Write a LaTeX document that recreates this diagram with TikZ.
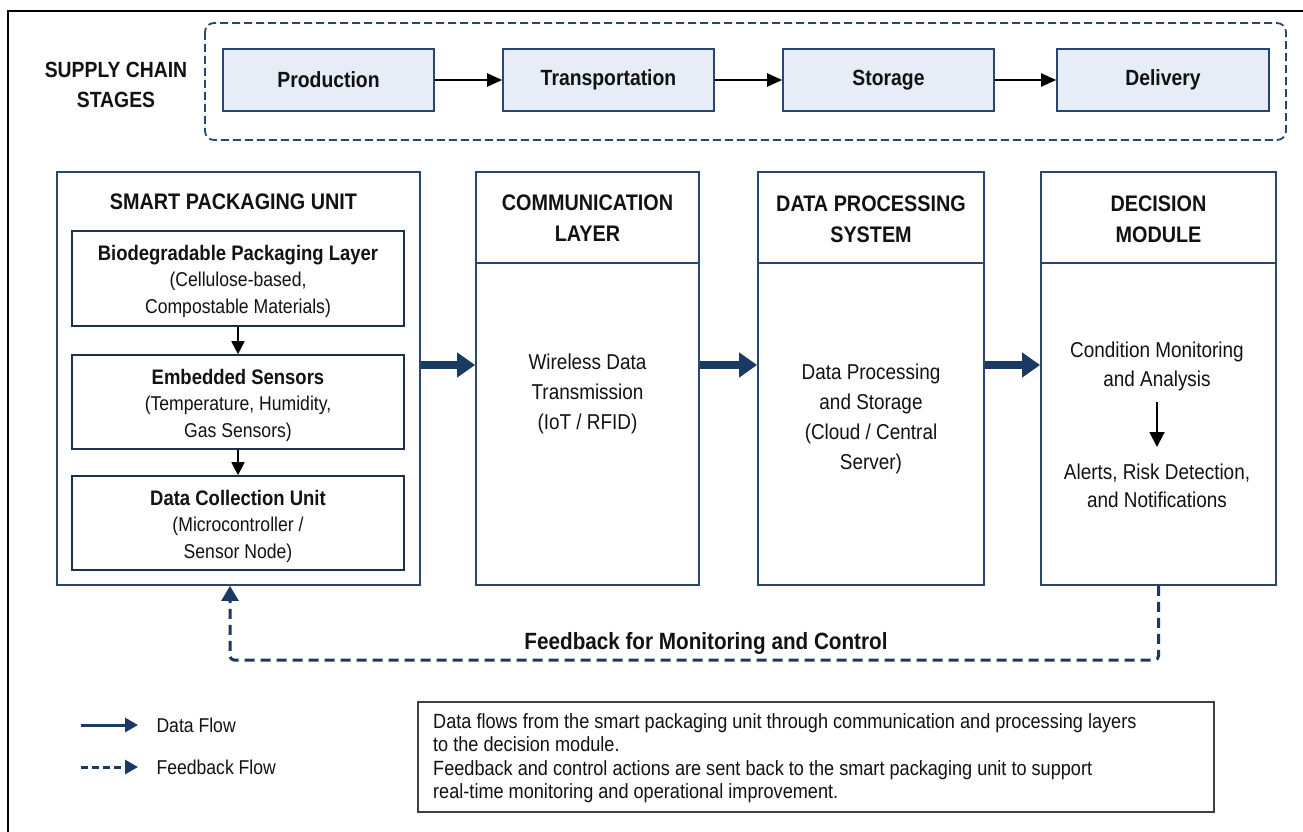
\documentclass[tikz,border=0pt]{standalone}
\usepackage{fontspec}
\setmainfont[FakeStretch=0.88]{Liberation Sans}
\usetikzlibrary{arrows.meta,backgrounds}
\definecolor{navy}{HTML}{1B3A63}
\definecolor{bordr}{HTML}{2A4570}
\definecolor{hfill}{HTML}{E6EDF7}
\definecolor{txtc}{HTML}{121212}
\tikzset{
  stagebox/.style={draw=bordr, line width=1.6pt, fill=hfill, inner sep=0pt, minimum width=211pt, minimum height=62pt, font=\fontsize{22}{26}\selectfont\bfseries, text=txtc},
  colbox/.style={draw=bordr, line width=1.8pt, inner sep=0pt, minimum height=413pt},
  innerbox/.style={draw=bordr!70!black, line width=1.6pt, inner sep=0pt, minimum width=332pt, minimum height=94pt},
  innertxt/.style={align=center, text=txtc, font=\fontsize{20}{26.5}\selectfont},
  hdr/.style={align=center, font=\fontsize{22.5}{31}\selectfont\bfseries, text=txtc},
  body/.style={align=center, font=\fontsize{21.5}{30}\selectfont, text=txtc},
  stagearrow/.style={line width=2pt, -{Triangle[length=15pt,width=13pt]}, black},
  smallarrow/.style={line width=1.8pt, -{Triangle[length=13pt,width=13pt]}, black},
  flow/.style={line width=8pt, navy, -{Triangle[length=18pt,width=24pt]}},
  fb/.style={line width=3pt, navy, dash pattern=on 10pt off 6pt, rounded corners=4pt, -{Triangle[length=15pt,width=17pt]}},
}
\begin{document}
\begin{tikzpicture}[x=1pt,y=-1pt]
\useasboundingbox (0,0) rectangle (1303,832);
\fill[white] (0,0) rectangle (1303,832);
% outer frame (left and top visible)
\draw[black, line width=2pt] (8,845) -- (8,11) -- (1315,11);

% supply chain container
\draw[bordr, line width=1.8pt, dash pattern=on 8pt off 4pt, rounded corners=9pt] (205,23) rectangle (1286,140);
\node[align=center, font=\fontsize{22}{30}\selectfont\bfseries, text=txtc] (sclabel) at (116,85) {SUPPLY CHAIN\\STAGES};

\node[stagebox] (prod) at (328.5,80) {Production};
\node[stagebox] (trans) at (608.5,80) {Transportation};
\node[stagebox] (stor) at (888.5,80) {Storage};
\node[stagebox, minimum width=212pt] (deliv) at (1163,80) {Delivery};
\draw[stagearrow] (prod) -- (trans);
\draw[stagearrow] (trans) -- (stor);
\draw[stagearrow] (stor) -- (deliv);

% columns
\node[colbox, minimum width=363pt] (spu) at (238.5,378.5) {};
\node[colbox, minimum width=223pt] (comm) at (587.5,378.5) {};
\node[colbox, minimum width=226pt] (dps) at (871,378.5) {};
\node[colbox, minimum width=235pt] (dec) at (1158.5,378.5) {};

\coordinate (hs) at (0,230);
\coordinate (hb) at (0,263);
\begin{scope}[on background layer]
\fill[hfill] (spu.north west) rectangle (spu.east |- hs);
\fill[hfill] (comm.north west) rectangle (comm.east |- hb);
\fill[hfill] (dps.north west) rectangle (dps.east |- hb);
\fill[hfill] (dec.north west) rectangle (dec.east |- hb);
\end{scope}
\draw[bordr, line width=1.8pt] (comm.west |- hb) -- (comm.east |- hb);
\draw[bordr, line width=1.8pt] (dps.west |- hb) -- (dps.east |- hb);
\draw[bordr, line width=1.8pt] (dec.west |- hb) -- (dec.east |- hb);

% headers
\node[hdr] (spuh) at (233.5,202) {SMART PACKAGING UNIT};
\node[hdr] (commh) at (587.5,218) {COMMUNICATION\\LAYER};
\node[hdr] (dpsh) at (871,219) {DATA PROCESSING\\SYSTEM};
\node[hdr] (dech) at (1158.5,219) {DECISION\\MODULE};

% inner boxes of smart packaging unit
\node[innerbox, minimum height=95pt] (b1) at (238,278.5) {};
\node[innerbox] (b2) at (238,402) {};
\node[innerbox] (b3) at (238,523) {};
\node[innertxt] (b1t) at (238,281) {{\fontsize{21}{26.5}\selectfont\bfseries Biodegradable Packaging Layer}\\(Cellulose-based,\\Compostable Materials)};
\node[innertxt] (b2t) at (238,405) {{\fontsize{21}{26.5}\selectfont\bfseries Embedded Sensors}\\(Temperature, Humidity,\\Gas Sensors)};
\node[innertxt] (b3t) at (238,526) {{\fontsize{21}{26.5}\selectfont\bfseries Data Collection Unit}\\(Microcontroller /\\Sensor Node)};
\draw[smallarrow] (b1) -- (b2);
\draw[smallarrow] (b2) -- (b3);

% column bodies
\node[body] (commt) at (587.5,394) {Wireless Data\\Transmission\\(IoT / RFID)};
\node[body] (dpst) at (871,419) {Data Processing\\and Storage\\(Cloud / Central\\Server)};
\node[body, font=\fontsize{21.5}{29}\selectfont] (dect1) at (1157,366) {Condition Monitoring\\and Analysis};
\node[body, font=\fontsize{21.5}{28}\selectfont] (dect2) at (1157,486) {Alerts, Risk Detection,\\and Notifications};
\coordinate (da1) at (1157,402);
\coordinate (da2) at (1157,447);
\draw[line width=2pt, black, -{Triangle[length=15pt,width=15pt]}] (da1) -- (da2);

% data flow arrows
\coordinate (ay) at (0,365);
\draw[flow] (spu.east |- ay) -- (comm.west |- ay);
\draw[flow] (comm.east |- ay) -- (dps.west |- ay);
\draw[flow] (dps.east |- ay) -- (dec.west |- ay);

% feedback
\coordinate (fbL) at (230,660);
\draw[fb] (dec.south) |- (fbL) -- (fbL |- spu.south);
\node[font=\fontsize{23.5}{26}\selectfont\bfseries, text=txtc] (fbt) at (706,643) {Feedback for Monitoring and Control};

% legend
\coordinate (l1a) at (81,725);
\coordinate (l1b) at (138,725);
\coordinate (l2a) at (81,767);
\coordinate (l2b) at (138,767);
\draw[navy, line width=3pt, -{Triangle[length=13pt,width=14pt]}] (l1a) -- (l1b);
\draw[navy, line width=3pt, dash pattern=on 7pt off 4pt, -{Triangle[length=13pt,width=14pt]}] (l2a) -- (l2b);
\node[anchor=west, font=\fontsize{20}{22}\selectfont, text=txtc] (lg1) at (153,725) {Data Flow};
\node[anchor=west, font=\fontsize{20}{22}\selectfont, text=txtc] (lg2) at (153,767) {Feedback Flow};

% description box
\draw[black!75, line width=1.5pt] (418,702) rectangle (1214,812);
\node[anchor=west, align=left, inner sep=0pt, font=\fontsize{20.6}{23.5}\selectfont, text=txtc] (desc) at (433,758) {Data flows from the smart packaging unit through communication and processing layers\\to the decision module.\\Feedback and control actions are sent back to the smart packaging unit to support\\real-time monitoring and operational improvement.};
\end{tikzpicture}
\end{document}
